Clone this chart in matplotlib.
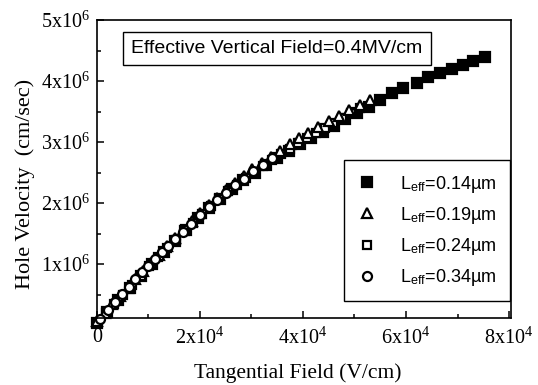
import numpy as np
import matplotlib
matplotlib.use("Agg")
import matplotlib.pyplot as plt
from matplotlib.ticker import MultipleLocator, FixedLocator

plt.rcParams["mathtext.fontset"] = "custom"
plt.rcParams["mathtext.rm"] = "Liberation Serif"
plt.rcParams["mathtext.it"] = "Liberation Serif:italic"
plt.rcParams["mathtext.sf"] = "Liberation Sans"

# field in units of 1e4 V/cm, velocity in units of 1e6 cm/sec
field_014 = [0.0, 0.2, 0.42, 0.64, 0.86, 1.08, 1.3, 1.52, 1.74, 1.96, 2.18, 2.4,
             2.62, 2.84, 3.06, 3.28, 3.5, 3.72, 3.94, 4.16, 4.38, 4.6, 4.82, 5.05,
             5.28, 5.5, 5.73, 5.94, 6.21, 6.43, 6.66, 6.89, 7.11, 7.3, 7.53]
vel_014 = [0.03, 0.21, 0.41, 0.61, 0.81, 1.00, 1.19, 1.37, 1.56, 1.75, 1.92, 2.07,
           2.23, 2.37, 2.50, 2.63, 2.74, 2.86, 2.97, 3.07, 3.17, 3.27, 3.37, 3.47,
           3.58, 3.69, 3.80, 3.89, 3.97, 4.07, 4.13, 4.20, 4.26, 4.33, 4.39]

field_019 = [0.0, 0.15, 0.3, 0.45, 0.6, 0.75, 0.9, 1.05, 1.2, 1.36, 1.52, 1.68,
             1.84, 2.0, 2.17, 2.34, 2.51, 2.68, 2.85, 3.02, 3.2, 3.38, 3.56, 3.74,
             3.92, 4.1, 4.3, 4.5, 4.7, 4.9, 5.1, 5.3]
vel_019 = [0.06, 0.20, 0.34, 0.47, 0.61, 0.75, 0.88, 1.01, 1.15, 1.29, 1.42, 1.56,
           1.70, 1.83, 1.96, 2.09, 2.21, 2.33, 2.44, 2.55, 2.66, 2.76, 2.86, 2.96,
           3.06, 3.15, 3.25, 3.34, 3.43, 3.52, 3.61, 3.69]

field_024 = [0.0, 0.17, 0.34, 0.51, 0.68, 0.85, 1.02, 1.19, 1.36, 1.53, 1.7, 1.87,
             2.04, 2.21, 2.38, 2.55, 2.72, 2.89, 3.06, 3.23, 3.4, 3.57, 3.74, 3.91,
             4.08, 4.25, 4.42, 4.59, 4.76, 4.93, 5.1]
vel_024 = [0.04, 0.20, 0.35, 0.50, 0.66, 0.81, 0.97, 1.11, 1.26, 1.40, 1.55, 1.68,
           1.82, 1.95, 2.07, 2.19, 2.30, 2.41, 2.51, 2.61, 2.71, 2.80, 2.89, 2.98,
           3.07, 3.15, 3.23, 3.31, 3.39, 3.47, 3.55]

field_034 = [0.06, 0.21, 0.35, 0.49, 0.62, 0.75, 0.88, 1.0, 1.13, 1.26, 1.39, 1.52,
             1.67, 1.83, 2.0, 2.17, 2.34, 2.51, 2.68, 2.86, 3.04, 3.22, 3.4]
vel_034 = [0.10, 0.25, 0.38, 0.51, 0.63, 0.75, 0.87, 0.97, 1.08, 1.19, 1.30, 1.41,
           1.53, 1.66, 1.80, 1.93, 2.05, 2.17, 2.29, 2.40, 2.52, 2.63, 2.73]

x_ticks = [0, 2e4, 4e4, 6e4, 8e4]
x_labels = ["0", r"2x10$^{4}$", r"4x10$^{4}$", r"6x10$^{4}$", r"8x10$^{4}$"]
y_ticks = [1e6, 2e6, 3e6, 4e6, 5e6]
y_labels = [r"1x10$^{6}$", r"2x10$^{6}$", r"3x10$^{6}$", r"4x10$^{6}$", r"5x10$^{6}$"]

fig = plt.figure(figsize=(5.38, 3.85), dpi=100)
ax = fig.add_axes([0.180, 0.174, 0.770, 0.774])

series = [
    (field_014, vel_014, "s", "black", 6.5, r"L$_{\mathsf{eff}}$=0.14µm"),
    (field_024, vel_024, "s", "white", 6.0, r"L$_{\mathsf{eff}}$=0.24µm"),
    (field_019, vel_019, "^", "white", 6.5, r"L$_{\mathsf{eff}}$=0.19µm"),
    (field_034, vel_034, "o", "white", 6.5, r"L$_{\mathsf{eff}}$=0.34µm"),
]
handles = {}
for fx, vy, mk, face, ms, lab in series:
    h, = ax.plot(np.array(fx) * 1e4, np.array(vy) * 1e6, linestyle="none",
                 marker=mk, markersize=ms, markerfacecolor=face,
                 markeredgecolor="black", markeredgewidth=1.6,
                 clip_on=False, label=lab)
    handles[lab] = h

order = [r"L$_{\mathsf{eff}}$=0.14µm", r"L$_{\mathsf{eff}}$=0.19µm",
         r"L$_{\mathsf{eff}}$=0.24µm", r"L$_{\mathsf{eff}}$=0.34µm"]
leg = ax.legend([handles[k] for k in order], order, loc="upper right",
                bbox_to_anchor=(0.998, 0.530), borderaxespad=0,
                prop={"family": "Liberation Sans", "size": 13},
                fancybox=False, edgecolor="black", framealpha=1,
                handlelength=1.0, handletextpad=1.35, labelspacing=0.56,
                borderpad=0.75)
leg.get_frame().set_linewidth(1.0)

ax.text(0.435, 0.905, "Effective Vertical Field=0.4MV/cm", transform=ax.transAxes,
        ha="center", va="center", fontsize=14, family="Liberation Sans",
        bbox=dict(boxstyle="square,pad=0.42", facecolor="white",
                  edgecolor="black", linewidth=1.0))

ax.set_xlim(0, 8.04e4)
ax.set_ylim(0.115e6, 5e6)
ax.xaxis.set_major_locator(FixedLocator(x_ticks))
ax.set_xticklabels(x_labels)
ax.xaxis.set_minor_locator(MultipleLocator(1e4))
ax.yaxis.set_major_locator(FixedLocator(y_ticks))
ax.set_yticklabels(y_labels)
ax.yaxis.set_minor_locator(MultipleLocator(0.5e6))
ax.tick_params(which="both", direction="in", top=False, right=False,
               labelsize=14.5, width=1.1)
ax.tick_params(which="major", length=5)
ax.tick_params(which="minor", length=3)
ax.tick_params(axis="x", which="major", pad=7)
ax.tick_params(axis="y", which="major", pad=5)
for lbl in ax.get_xticklabels() + ax.get_yticklabels():
    lbl.set_family("Liberation Serif")
for sp in ax.spines.values():
    sp.set_linewidth(1.2)

ax.set_xlabel("Tangential Field (V/cm)", family="Liberation Serif", fontsize=15.5)
ax.set_ylabel("Hole Velocity  (cm/sec)", family="Liberation Serif", fontsize=16)
ax.xaxis.set_label_coords(0.485, -0.152)
ax.yaxis.set_label_coords(-0.15, 0.45)

fig.savefig("out.png", dpi=100)
